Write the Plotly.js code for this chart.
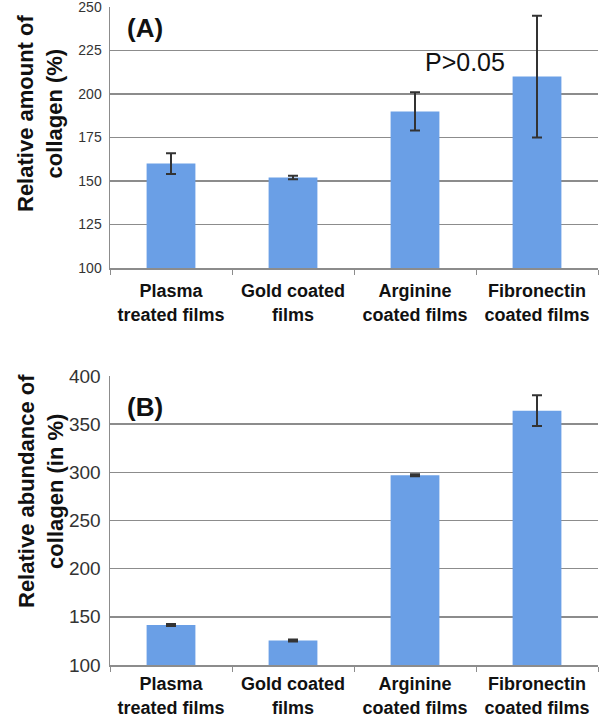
<!DOCTYPE html>
<html>
<head>
<meta charset="utf-8">
<script src="https://cdn.plot.ly/plotly-3.0.1.min.js"></script>
<style>html,body{margin:0;padding:0;background:#fff;}#chart{width:600px;height:722px;}</style>
</head>
<body>
<div id="chart"></div>
<script>
const categories = ["Plasma<br>treated films", "Gold coated<br>films", "Arginine<br>coated films", "Fibronectin<br>coated films"];
const valuesA = [160, 152, 190, 210];
const errorsA = [6, 1, 11, 35];
const valuesB = [141.5, 125.5, 297, 364];
const errorsB = [1, 1, 1, 16];
const ticksA = [100, 125, 150, 175, 200, 225, 250];
const ticksB = [100, 150, 200, 250, 300, 350, 400];

const barColor = "#6a9fe6";
const errStyle = {type: "data", visible: true, color: "#333333", thickness: 2, width: 5};

const traces = [
  {type: "bar", x: categories, y: valuesA, xaxis: "x", yaxis: "y",
   marker: {color: barColor}, error_y: Object.assign({array: errorsA}, errStyle), hoverinfo: "none"},
  {type: "bar", x: categories, y: valuesB, xaxis: "x2", yaxis: "y2",
   marker: {color: barColor}, error_y: Object.assign({array: errorsB}, errStyle), hoverinfo: "none"}
];

const gridC = "#8c8c8c";
const xCommon = {type: "category", showgrid: false, showline: true, linecolor: gridC, linewidth: 1.5,
  ticks: "outside", tickson: "boundaries", ticklen: 5, tickcolor: gridC,
  tickfont: {family: "Liberation Sans, Arial, sans-serif", size: 18, color: "#111", weight: "bold"}};

const yCommon = {showgrid: true, gridcolor: gridC, gridwidth: 1.5, showline: true, linecolor: gridC, linewidth: 1.5,
  zeroline: false, ticks: "", ticklabelstandoff: 4, ticklabeloverflow: "allow"};

const T = 7, H = 658;
const py = (p) => 1 - (p - T) / H;
const px = (p) => (p - 110) / 488;

const layout = {
  width: 600, height: 722,
  margin: {l: 110, r: 2, t: T, b: 57},
  paper_bgcolor: "#fff", plot_bgcolor: "#fff",
  showlegend: false, bargap: 0.6,
  font: {family: "Liberation Sans, Arial, sans-serif"},
  xaxis: Object.assign({anchor: "y", domain: [0, 1], ticklabelstandoff: 6}, xCommon),
  xaxis2: Object.assign({anchor: "y2", domain: [0, 1], ticklabelstandoff: 2}, xCommon),
  yaxis: Object.assign({domain: [py(268), 1], range: [100, 250], tickvals: ticksA, ticktext: ticksA.map(String),
    tickfont: {size: 14, color: "#333"}}, yCommon),
  yaxis2: Object.assign({domain: [0, py(376)], range: [100, 400], tickvals: ticksB, ticktext: ticksB.map(String),
    tickfont: {size: 19, color: "#333"}}, yCommon),
  annotations: [
    {text: "<b>Relative amount of<br>collagen (%)</b>", xref: "paper", yref: "paper",
     x: px(40), y: py(114), xanchor: "center", yanchor: "middle",
     textangle: -90, showarrow: false, font: {size: 22, color: "#111"}},
    {text: "<b>Relative abundance of<br>collagen (in %)</b>", xref: "paper", yref: "paper",
     x: px(41), y: py(491), xanchor: "center", yanchor: "middle",
     textangle: -90, showarrow: false, font: {size: 22, color: "#111"}},
    {text: "<b>(A)</b>", xref: "paper", yref: "paper", x: px(125), y: py(28),
     xanchor: "left", yanchor: "middle", showarrow: false, font: {size: 26, color: "#111"}},
    {text: "<b>(B)</b>", xref: "paper", yref: "paper", x: px(125), y: py(407),
     xanchor: "left", yanchor: "middle", showarrow: false, font: {size: 26, color: "#111"}},
    {text: "P>0.05", xref: "paper", yref: "paper", x: px(465), y: py(62),
     xanchor: "center", yanchor: "middle", showarrow: false, font: {size: 25, color: "#111"}}
  ]
};

Plotly.newPlot("chart", traces, layout, {displayModeBar: false, staticPlot: true});
</script>
</body>
</html>
